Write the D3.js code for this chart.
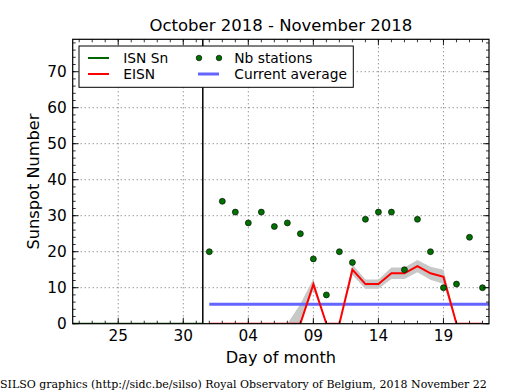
<!DOCTYPE html>
<html><head><meta charset="utf-8">
<script src="https://cdn.jsdelivr.net/npm/d3@7"></script>
<style>body{margin:0;background:#fff}svg{display:block}</style>
</head><body>
<svg id="c" width="515" height="390"></svg>
<script>
// ---- data ----
const novDays = [1,2,3,4,5,6,7,8,9,10,11,12,13,14,15,16,17,18,19,20,21,22];
const nbStations = [20,34,31,28,31,27,28,25,18,8,20,17,29,31,31,15,29,20,10,11,24,10];
const eisn = [0,0,0,0,0,0,0,0,11,0,0,15,11,11,14,14,16,14,13,0,0,0];
const eisnErr = [0,0,0,0,0,0,0,5.5,1.5,0,0,1.5,1.3,1.3,1.6,1.6,1.7,1.8,2,0,0,0];
const isnOctDays = [21,22,23,24,25,26,27,28,29,30,31];
const isnValues = [0,0,0,0,0,0,0,0,0,0,0];
const currentAverage = 5.4;
const xMajorTicks = [[9,25],[9,30],[10,4],[10,9],[10,14],[10,19]]; // [month index, day]
const yTicks = [0,10,20,30,40,50,60,70];
const titleText = "October 2018 - November 2018";
const xLabel = "Day of month";
const yLabel = "Sunspot Number";
const footer = "SILSO graphics (http://sidc.be/silso) Royal Observatory of Belgium, 2018 November 22";

// ---- layout ----
const L = 72.7, R = 489, T = 39.3, B = 323.7;
const svg = d3.select("#c");
const FS = "DejaVu Sans, sans-serif";

const x = d3.scaleUtc()
  .domain([new Date(Date.UTC(2018,9,21,12)), new Date(Date.UTC(2018,10,22,12))])
  .range([L, R]);
const y = d3.scaleLinear().domain([0, 79]).range([B, T]);

const nov = novDays.map((d,i)=>({date:new Date(Date.UTC(2018,10,d)), n:nbStations[i], e:eisn[i], err:eisnErr[i]}));
const isn = isnOctDays.map((d,i)=>({date:new Date(Date.UTC(2018,9,d,12)), v:isnValues[i]}));
const boundary = new Date(Date.UTC(2018,9,31,12));
const majorDates = xMajorTicks.map(([m,d])=>new Date(Date.UTC(2018,m,d)));
const minorDates = d3.utcDay.range(x.domain()[0], x.domain()[1]).filter(d=>d>x.domain()[0]);
const yMinor = d3.range(0, 79, 2);

svg.append("defs").append("clipPath").attr("id","clip")
  .append("rect").attr("x",L).attr("y",T).attr("width",R-L).attr("height",B-T);

// grid
const grid = svg.append("g").attr("stroke","#000").attr("stroke-width",0.6).attr("stroke-dasharray","1,3");
majorDates.forEach(d=>grid.append("line").attr("x1",x(d)).attr("x2",x(d)).attr("y1",T).attr("y2",B));
yTicks.filter(v=>v>0).forEach(v=>grid.append("line").attr("x1",L).attr("x2",R).attr("y1",y(v)).attr("y2",y(v)));

const plot = svg.append("g").attr("clip-path","url(#clip)");

// error band
plot.append("path").datum(nov)
  .attr("fill","#c8c8c8")
  .attr("d", d3.area().x(d=>x(d.date)).y0(d=>y(Math.max(0,d.e-d.err))).y1(d=>y(d.e+d.err)));

// ISN line
plot.append("path").datum(isn).attr("fill","none").attr("stroke","#006400").attr("stroke-width",2)
  .attr("d", d3.line().x(d=>x(d.date)).y(d=>y(d.v)));

// current average
plot.append("line").attr("x1",x(nov[0].date)).attr("x2",x(x.domain()[1]))
  .attr("y1",y(currentAverage)).attr("y2",y(currentAverage))
  .attr("stroke","#6464ff").attr("stroke-width",3);

// EISN line
plot.append("path").datum(nov).attr("fill","none").attr("stroke","#ff0000").attr("stroke-width",2)
  .attr("d", d3.line().x(d=>x(d.date)).y(d=>y(d.e)));

// stations points
plot.selectAll("circle.st").data(nov).join("circle").attr("class","st")
  .attr("cx",d=>x(d.date)).attr("cy",d=>y(d.n)).attr("r",3)
  .attr("fill","#007000").attr("stroke","#000").attr("stroke-width",0.6);

// boundary line
svg.append("line").attr("x1",x(boundary)).attr("x2",x(boundary)).attr("y1",T).attr("y2",B)
  .attr("stroke","#000").attr("stroke-width",1.5);

// ticks
const tk = svg.append("g").attr("stroke","#000").attr("stroke-width",0.8);
majorDates.forEach(d=>{
  tk.append("line").attr("x1",x(d)).attr("x2",x(d)).attr("y1",B).attr("y2",B-6);
  tk.append("line").attr("x1",x(d)).attr("x2",x(d)).attr("y1",T).attr("y2",T+6);
});
minorDates.forEach(d=>{
  tk.append("line").attr("x1",x(d)).attr("x2",x(d)).attr("y1",B).attr("y2",B-3);
  tk.append("line").attr("x1",x(d)).attr("x2",x(d)).attr("y1",T).attr("y2",T+3);
});
yTicks.forEach(v=>{
  tk.append("line").attr("x1",L).attr("x2",L+6).attr("y1",y(v)).attr("y2",y(v));
  tk.append("line").attr("x1",R).attr("x2",R-6).attr("y1",y(v)).attr("y2",y(v));
});
yMinor.forEach(v=>{
  tk.append("line").attr("x1",L).attr("x2",L+3).attr("y1",y(v)).attr("y2",y(v));
  tk.append("line").attr("x1",R).attr("x2",R-3).attr("y1",y(v)).attr("y2",y(v));
});

// frame
svg.append("rect").attr("x",L).attr("y",T).attr("width",R-L).attr("height",B-T)
  .attr("fill","none").attr("stroke","#000").attr("stroke-width",1.2);

// tick labels
const fmt = d3.utcFormat("%d");
svg.append("g").selectAll("text").data(majorDates).join("text")
  .attr("x",d=>x(d)).attr("y",341).attr("text-anchor","middle")
  .attr("font-family",FS).attr("font-size",15.3).text(d=>fmt(d));
svg.append("g").selectAll("text").data(yTicks).join("text")
  .attr("x",L-6).attr("y",d=>y(d)+5.5).attr("text-anchor","end")
  .attr("font-family",FS).attr("font-size",15.3).text(d=>d);

// titles
svg.append("text").attr("x",(L+R)/2).attr("y",31).attr("text-anchor","middle")
  .attr("font-family",FS).attr("font-size",16.5).text(titleText);
svg.append("text").attr("x",(L+R)/2).attr("y",363).attr("text-anchor","middle")
  .attr("font-family",FS).attr("font-size",16.2).text(xLabel);
svg.append("text").attr("transform",`translate(38.5,${(T+B)/2}) rotate(-90)`).attr("text-anchor","middle")
  .attr("font-family",FS).attr("font-size",16.2).text(yLabel);
svg.append("text").attr("x",0).attr("y",388).attr("font-family","DejaVu Serif, serif")
  .attr("font-size",11).text(footer);

// legend
const lg = svg.append("g");
lg.append("rect").attr("x",79).attr("y",46).attr("width",274.3).attr("height",41.3)
  .attr("fill","#fff").attr("stroke","#000").attr("stroke-width",1);
const items = [
  {type:"line", color:"#006400", w:2, x:88, y:58, label:"ISN Sn"},
  {type:"line", color:"#ff0000", w:2, x:88, y:74, label:"EISN"},
  {type:"dots", color:"#007000", x:199, y:58, label:"Nb stations"},
  {type:"line", color:"#6464ff", w:3, x:198, y:74, label:"Current average"}
];
items.forEach(it=>{
  if (it.type==="line") {
    lg.append("line").attr("x1",it.x).attr("x2",it.x+21).attr("y1",it.y).attr("y2",it.y)
      .attr("stroke",it.color).attr("stroke-width",it.w);
  } else {
    [it.x, it.x+20].forEach(cx=>lg.append("circle").attr("cx",cx).attr("cy",it.y).attr("r",2.8)
      .attr("fill",it.color).attr("stroke","#000").attr("stroke-width",0.6));
  }
  lg.append("text").attr("x",it.type==="line" && it.x<150 ? 123.3 : 234.3).attr("y",it.y+5)
    .attr("font-family",FS).attr("font-size",13.8).text(it.label);
});
</script>
</body></html>
